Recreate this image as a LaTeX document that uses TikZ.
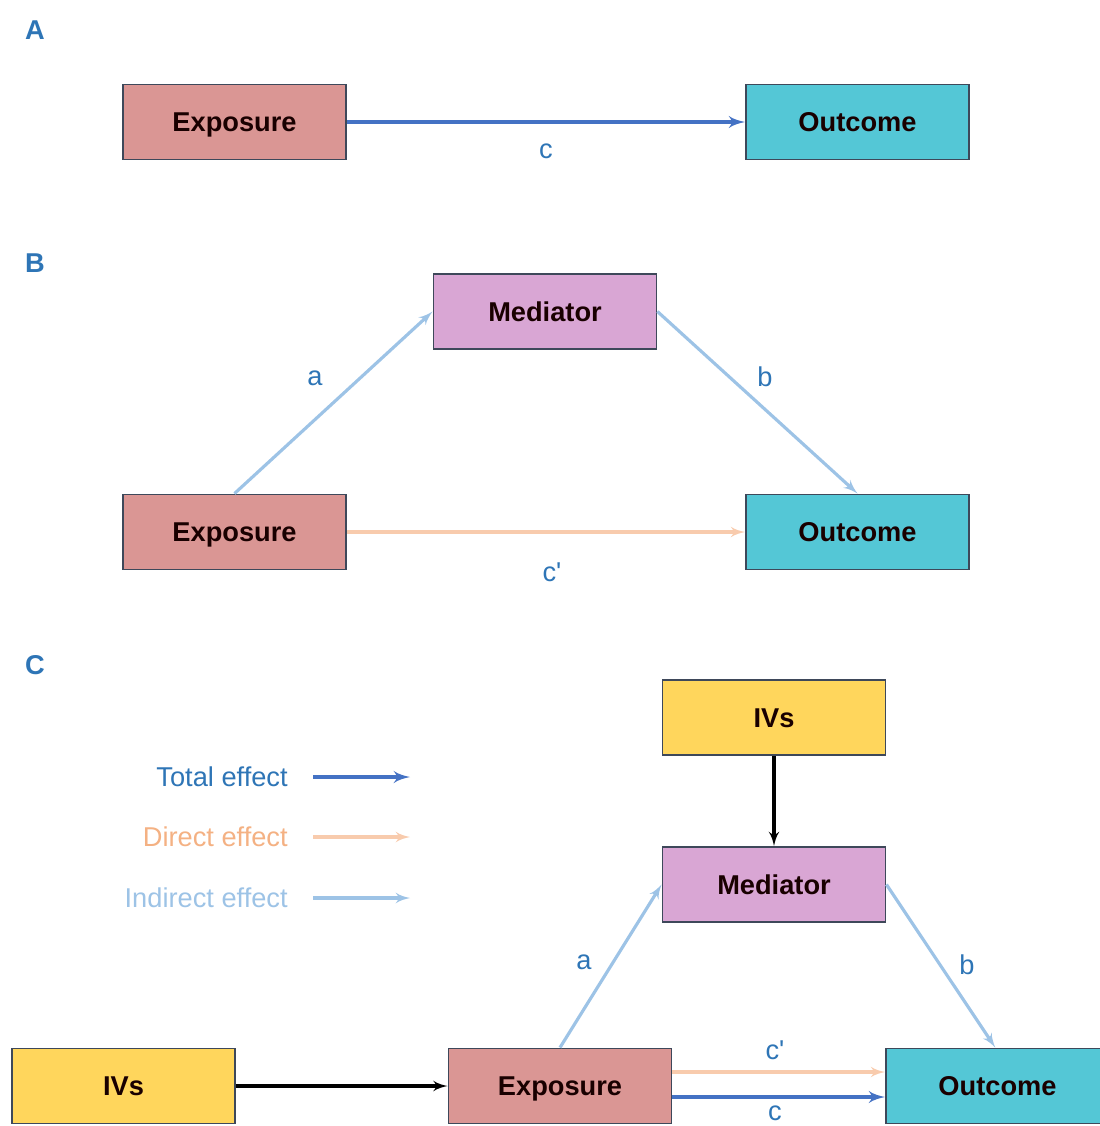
\documentclass[tikz,border=0pt]{standalone}
\usepackage{fontspec}
\setmainfont{Liberation Sans}
\usetikzlibrary{arrows,positioning,calc}
\definecolor{expocol}{RGB}{218,150,148}
\definecolor{outcol}{RGB}{84,199,214}
\definecolor{medcol}{RGB}{217,166,212}
\definecolor{ivcol}{RGB}{255,214,92}
\definecolor{edgecol}{RGB}{62,72,90}
\definecolor{totalcol}{RGB}{68,114,196}
\definecolor{directcol}{RGB}{248,203,173}
\definecolor{indircol}{RGB}{157,195,230}
\definecolor{labcol}{RGB}{46,117,182}
\definecolor{dircol}{RGB}{244,177,131}

\begin{document}
\begin{tikzpicture}
[x=0.02cm,y=-0.02cm,
    box/.style={draw=edgecol,line width=1.1pt,minimum width=4.46cm,minimum
    height=1.5cm,text=black!90!red,font=\fontsize{15.5}{18}\selectfont\bfseries,
    text height=11pt,text depth=0pt,inner sep=0pt},
    expo/.style={box,fill=expocol},
    outc/.style={box,fill=outcol},
    med/.style={box,fill=medcol},
    ivs/.style={box,fill=ivcol},
    lab/.style={text=labcol,font=\fontsize{15.5}{18}\selectfont,inner sep=1pt},
    panel/.style={text=labcol,font=\fontsize{15.5}{18}\selectfont\bfseries},
    leg/.style={font=\fontsize{15.5}{18}\selectfont,anchor=east,inner sep=0pt},
total/.style={>=latex',line width=2.2pt,draw=totalcol,->},
direct/.style={>=latex',line width=1.8pt,draw=directcol,->},
indirect/.style={>=latex',line width=1.8pt,draw=indircol,->},
iv/.style={>=latex',line width=1.8pt,draw=black,->}]
\useasboundingbox (0,0) rectangle (1099,1126);
%%%%%%%%%%
%% panel A
\node (pa) [panel] at (35,30) {A};
\node (ea) [expo] at (234.5,122) {Exposure};
\node (oa) [outc] at (857.5,122) {Outcome};
\draw[total] (ea) -- node[lab,below=10.5pt]{c} (oa);
%%
%% panel B
\node (pb) [panel] at (35,263) {B};
\node (mb) [med] at (545,311.5) {Mediator};
\node (eb) [expo] at (234.5,532) {Exposure};
\node (ob) [outc] at (857.5,532) {Outcome};
\draw[indirect] (eb.north) -- (mb.west);
\draw[indirect] (mb.east) -- (ob.north);
\draw[direct] (eb) -- (ob);
\node (la) [lab] at (315,378) {a};
\node (lb) [lab] at (765,377) {b};
\node (lcp) [lab] at (552,572) {c\textquotesingle};
%%
%% panel C
\node (pc) [panel] at (35,665) {C};
\node (ivm) [ivs] at (774,717.5) {IVs};
\node (mc) [med] at (774,884.5) {Mediator};
\node (ive) [ivs] at (123.5,1086) {IVs};
\node (ec) [expo] at (560,1086) {Exposure};
\node (oc) [outc] at (997.5,1086) {Outcome};
%% edges
\draw[iv] (ive) -- (ec);
\draw[iv] (ivm) -- (mc);
\draw[indirect] (ec.north) -- (mc.west);
\draw[indirect] (mc.east) -- ($(oc.north west)!.49!(oc.north east)$);
\draw[direct] ($(ec.east)+(0,-14)$) -- ($(oc.west)+(0,-14)$);
\draw[total] ($(ec.east)+(0,11)$) -- ($(oc.west)+(0,11)$);
\node (lac) [lab] at (584,962) {a};
\node (lbc) [lab] at (967,965) {b};
\node (lcpc) [lab] at (775,1050) {c\textquotesingle};
\node (lcc) [lab] at (775,1113) {c};
%% legend
\node (tot) [leg,text=labcol] at (288,777) {Total effect};
\node (dir) [leg,text=dircol] at (288,837) {Direct effect};
\node (ind) [leg,text=indircol] at (288,898) {Indirect effect};
\coordinate (tot1) at (313,777); \coordinate (tot2) at (410,777);
\coordinate (dir1) at (313,837); \coordinate (dir2) at (410,837);
\coordinate (ind1) at (313,898); \coordinate (ind2) at (410,898);
\draw[total] (tot1) -- (tot2);
\draw[direct] (dir1) -- (dir2);
\draw[indirect] (ind1) -- (ind2);
\end{tikzpicture}
\end{document}
